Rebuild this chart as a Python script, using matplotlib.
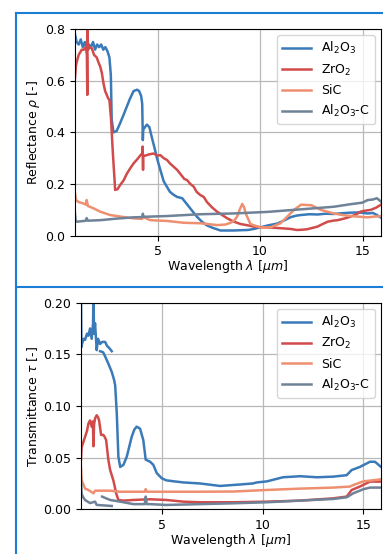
import numpy as np
import matplotlib
matplotlib.use('Agg')
import matplotlib.pyplot as plt
from matplotlib.lines import Line2D

plt.rcParams['font.size'] = 9
plt.rcParams['mathtext.fontset'] = 'dejavusans'

nan = np.nan

# ---- reflectance (top) ----
r_al_x = [0.97, 1.05, 1.15, 1.25, 1.35, 1.45, 1.55, 1.65, 1.75, 1.85, 1.95, 2.05, 2.15, 2.25, 2.35, 2.45,
          2.55, 2.65, 2.72, 2.76, 2.85, 3.0, 3.17, 3.35, 3.5, 3.65, 3.83, 4.0, 4.1, 4.2, 4.25, 4.28, 4.3,
          4.38, 4.48, 4.6, 4.72, 4.85, 4.97, 5.15, 5.3, 5.45, 5.6, 5.75, 5.95, 6.2, 6.4, 6.65, 6.9, 7.15,
          7.4, 7.7, 8.07, 8.4, 8.7, 9.0, 9.4, 9.7, 10.0, 10.4, 10.85, 11.2, 11.5, 11.8, 12.0, 12.4, 12.8,
          13.2, 13.6, 14.0, 14.4, 14.8, 15.25, 15.5, 15.7, 15.9]
r_al_y = [0.78, 0.75, 0.74, 0.76, 0.73, 0.75, 0.72, 0.74, 0.73, 0.75, 0.72, 0.74, 0.73, 0.74, 0.72, 0.73,
          0.715, 0.69, 0.62, 0.45, 0.40, 0.405, 0.435, 0.47, 0.50, 0.53, 0.56, 0.565, 0.56, 0.54, 0.51, 0.37,
          0.41, 0.42, 0.43, 0.42, 0.38, 0.34, 0.30, 0.25, 0.21, 0.19, 0.17, 0.16, 0.15, 0.145, 0.125, 0.10,
          0.075, 0.055, 0.04, 0.03, 0.02, 0.02, 0.02, 0.021, 0.022, 0.026, 0.032, 0.04, 0.047, 0.06, 0.072,
          0.078, 0.08, 0.083, 0.082, 0.085, 0.084, 0.087, 0.089, 0.09, 0.086, 0.088, 0.08, 0.07]

r_zr_x = [0.97, 1.02, 1.08, 1.15, 1.3, 1.4, 1.5, 1.55, 1.57, 1.58, 1.6, 1.7, 1.79, 1.9, 2.03, 2.12, 2.2,
          2.28, 2.36, 2.44, 2.52, 2.6, 2.65, 2.73, 2.81, 2.93, 3.05, 3.17, 3.35, 3.5, 3.7, 3.83, 4.0,
          4.15, 4.26, 4.27, 4.29, 4.3, 4.4, 4.6, 4.8, 5.0, 5.13, 5.3, 5.46, 5.6, 5.78, 5.95, 6.1, 6.3,
          6.44, 6.6, 6.76, 6.9, 7.09, 7.25, 7.41, 7.65, 7.9, 8.15, 8.4, 8.7, 9.05, 9.4, 9.7, 10.0, 10.35,
          10.8, 11.17, 11.5, 11.8, 12.05, 12.3, 12.55, 12.8, 13.05, 13.3, 13.55, 13.78, 14.1, 14.43, 14.7,
          14.9, 15.15, 15.4, 15.65, 15.9]
r_zr_y = [0.61, 0.66, 0.68, 0.70, 0.72, 0.72, 0.73, 0.70, 0.545, 0.80, 0.72, 0.73, 0.725, 0.70, 0.69,
          0.67, 0.655, 0.63, 0.59, 0.56, 0.545, 0.53, 0.525, 0.45, 0.33, 0.177, 0.18, 0.196, 0.215, 0.24,
          0.265, 0.28, 0.295, 0.31, 0.32, 0.345, 0.255, 0.31, 0.31, 0.315, 0.318, 0.31, 0.312, 0.30, 0.293,
          0.28, 0.267, 0.255, 0.24, 0.22, 0.215, 0.20, 0.19, 0.17, 0.157, 0.15, 0.13, 0.11, 0.093, 0.08,
          0.067, 0.055, 0.045, 0.04, 0.035, 0.033, 0.032, 0.03, 0.028, 0.026, 0.022, 0.023, 0.025, 0.03,
          0.035, 0.045, 0.054, 0.058, 0.06, 0.066, 0.074, 0.083, 0.093, 0.097, 0.10, 0.108, 0.12]

r_sic_x = [0.97, 1.02, 1.15, 1.38, 1.5, 1.54, 1.6, 1.87, 2.2, 2.68, 3.17, 3.83, 4.25, 4.3, 4.64, 5.46,
           6.27, 7.09, 7.9, 8.3, 8.56, 8.75, 8.88, 9.0, 9.13, 9.22, 9.3, 9.53, 10.0, 10.5, 11.0, 11.33,
           11.66, 12.0, 12.5, 12.96, 13.6, 14.0, 14.43, 15.25, 15.6, 15.9]
r_sic_y = [0.164, 0.138, 0.13, 0.125, 0.12, 0.138, 0.115, 0.106, 0.093, 0.08, 0.074, 0.067, 0.065, 0.072,
           0.06, 0.057, 0.05, 0.048, 0.041, 0.043, 0.05, 0.06, 0.074, 0.10, 0.123, 0.11, 0.086, 0.045,
           0.032, 0.032, 0.048, 0.074, 0.10, 0.12, 0.118, 0.10, 0.086, 0.08, 0.076, 0.071, 0.074, 0.076]

r_alc_x = [0.97, 1.0, 1.05, 1.3, 1.5, 1.54, 1.6, 2.2, 3.0, 3.83, 4.25, 4.28, 4.32, 5.46, 7.09, 8.7,
           10.35, 12.0, 13.6, 14.43, 15.0, 15.25, 15.5, 15.7, 15.9]
r_alc_y = [0.086, 0.06, 0.054, 0.056, 0.058, 0.068, 0.058, 0.06, 0.066, 0.071, 0.072, 0.085, 0.073,
           0.076, 0.083, 0.086, 0.092, 0.102, 0.112, 0.122, 0.128, 0.138, 0.14, 0.145, 0.132]

# ---- transmittance (bottom) ----
t_al_x = [0.95, 0.97, 1.0, 1.08, 1.15, 1.25, 1.32, 1.4, 1.48, 1.55, 1.57, 1.6, 1.65, 1.73, 1.8, 1.9,
          2.0, 2.15, 2.25, 2.31, 2.4, 2.48, nan,
          1.9, 2.05, 2.15, 2.31, 2.48, 2.6, 2.65, 2.73, 2.81, 2.9, 3.06, 3.23, 3.47, 3.6, 3.72, 3.89,
          4.05, 4.17, 4.28, 4.39, 4.55, 4.72, 4.97, 5.2, 5.6, 6.04, 6.87, 7.87, 8.86, 9.5, 9.7, 10.2,
          11.0, 11.85, 12.7, 13.5, 14.17, 14.42, 14.83, 15.33, 15.58, 15.88]
t_al_y = [0.21, 0.157, 0.16, 0.165, 0.164, 0.17, 0.168, 0.175, 0.165, 0.18, 0.21, 0.17, 0.18, 0.154,
          0.165, 0.16, 0.162, 0.162, 0.158, 0.157, 0.155, 0.153, nan,
          0.153, 0.152, 0.148, 0.141, 0.133, 0.125, 0.12, 0.093, 0.051, 0.041, 0.043, 0.051, 0.07,
          0.077, 0.08, 0.078, 0.067, 0.048, 0.047, 0.046, 0.043, 0.035, 0.030, 0.028, 0.027, 0.026,
          0.025, 0.0226, 0.024, 0.025, 0.026, 0.027, 0.031, 0.032, 0.031, 0.0316, 0.033, 0.038, 0.041,
          0.046, 0.046, 0.041]

t_zr_x = [0.95, 0.98, 1.05, 1.15, 1.25, 1.32, 1.4, 1.48, 1.54, 1.57, 1.6, 1.65, 1.73, 1.8, 1.85, 1.95,
          2.06, 2.13, 2.2, 2.31, 2.4, 2.56, 2.7, 2.81, 3.06, 3.56, 4.1, 4.17, 4.22, 4.39, 5.2, 6.04,
          6.87, 8.5, 10.2, 11.85, 13.5, 14.17, 14.42, 14.83, 15.33, 15.88]
t_zr_y = [0.048, 0.06, 0.064, 0.07, 0.076, 0.083, 0.086, 0.08, 0.085, 0.061, 0.082, 0.088, 0.091, 0.089,
          0.086, 0.072, 0.072, 0.07, 0.067, 0.048, 0.038, 0.028, 0.0155, 0.009, 0.0084, 0.009, 0.0095,
          0.0097, 0.0095, 0.0097, 0.009, 0.0074, 0.0068, 0.0068, 0.0074, 0.0084, 0.0106, 0.0123, 0.0187,
          0.022, 0.0268, 0.0268]

t_sic_x = [0.95, 0.98, 1.05, 1.15, 1.32, 1.57, 1.65, 1.9, 2.4, 2.9, 3.56, 4.12, 4.17, 4.22, 4.39, 5.2,
           6.87, 8.53, 10.2, 11.85, 13.5, 14.33, 14.5, 15.0, 15.88]
t_sic_y = [0.041, 0.028, 0.025, 0.02, 0.0187, 0.0155, 0.018, 0.018, 0.018, 0.017, 0.017, 0.017, 0.0195,
           0.017, 0.017, 0.017, 0.017, 0.0172, 0.0187, 0.02, 0.021, 0.022, 0.0235, 0.027, 0.029]

t_alc_x = [0.95, 0.98, 1.05, 1.15, 1.4, 1.65, 1.73, 1.9, 2.48, nan,
           2.0, 2.15, 2.4, 2.9, 3.56, 4.12, 4.17, 4.22, 4.39, 5.2, 6.87, 8.53, 10.2, 11.85, 13.5, 14.17,
           14.5, 15.0, 15.33, 15.88]
t_alc_y = [0.028, 0.015, 0.012, 0.009, 0.006, 0.0074, 0.0042, 0.004, 0.0032, nan,
           0.0123, 0.011, 0.009, 0.0074, 0.005, 0.005, 0.0123, 0.005, 0.005, 0.0042, 0.005, 0.0058,
           0.0068, 0.0084, 0.01, 0.0116, 0.0155, 0.0194, 0.021, 0.021]

labels = [r'Al$_2$O$_3$', r'ZrO$_2$', 'SiC', r'Al$_2$O$_3$-C']
colors = ['#3a7ab8', '#d24b4b', '#ee9070', '#6f8297']

fig = plt.figure(figsize=(3.83, 5.54), dpi=100)

ax1 = fig.add_axes([0.1958, 0.5746, 0.799, 0.373])
for (x, y), c, lab in zip([(r_al_x, r_al_y), (r_zr_x, r_zr_y), (r_sic_x, r_sic_y), (r_alc_x, r_alc_y)],
                          colors, labels):
    ax1.plot(x, y, color=c, lw=1.8, label=lab)
ax1.set_xlim(0.97, 15.9)
ax1.set_ylim(0, 0.8)
ax1.set_yticks([0.0, 0.2, 0.4, 0.6, 0.8])
ax1.set_xticks([5, 10, 15])
ax1.grid(True, color='#b8b8b8', lw=0.9)
ax1.set_ylabel(r'Reflectance $\rho$ [-]', labelpad=2)
ax1.set_xlabel(r'Wavelength $\lambda$ [$\mu m$]', labelpad=0)
ax1.legend(loc='upper right', fontsize=9, handlelength=2.3)

ax2 = fig.add_axes([0.2115, 0.0807, 0.7833, 0.373])
for (x, y), c, lab in zip([(t_al_x, t_al_y), (t_zr_x, t_zr_y), (t_sic_x, t_sic_y), (t_alc_x, t_alc_y)],
                          colors, labels):
    ax2.plot(x, y, color=c, lw=1.8, label=lab)
ax2.set_xlim(0.95, 15.88)
ax2.set_ylim(0, 0.2)
ax2.set_yticks([0.0, 0.05, 0.10, 0.15, 0.20])
ax2.set_yticklabels(['0.00', '0.05', '0.10', '0.15', '0.20'])
ax2.set_xticks([5, 10, 15])
ax2.grid(True, color='#b8b8b8', lw=0.9)
ax2.set_ylabel(r'Transmittance $\tau$ [-]', labelpad=2)
ax2.set_xlabel(r'Wavelength $\lambda$ [$\mu m$]', labelpad=0)
ax2.legend(loc='upper right', fontsize=9, handlelength=2.3)

# blue page frames around the two panels
fc = '#1a7fd4'
fig.add_artist(Line2D([0.0418, 0.0418], [0, 0.9765], color=fc, lw=1.5))
fig.add_artist(Line2D([0.0418, 1], [0.9765, 0.9765], color=fc, lw=1.5))
fig.add_artist(Line2D([0.0418, 1], [0.4825, 0.4825], color=fc, lw=1.5))

fig.savefig('out.png', dpi=100)
